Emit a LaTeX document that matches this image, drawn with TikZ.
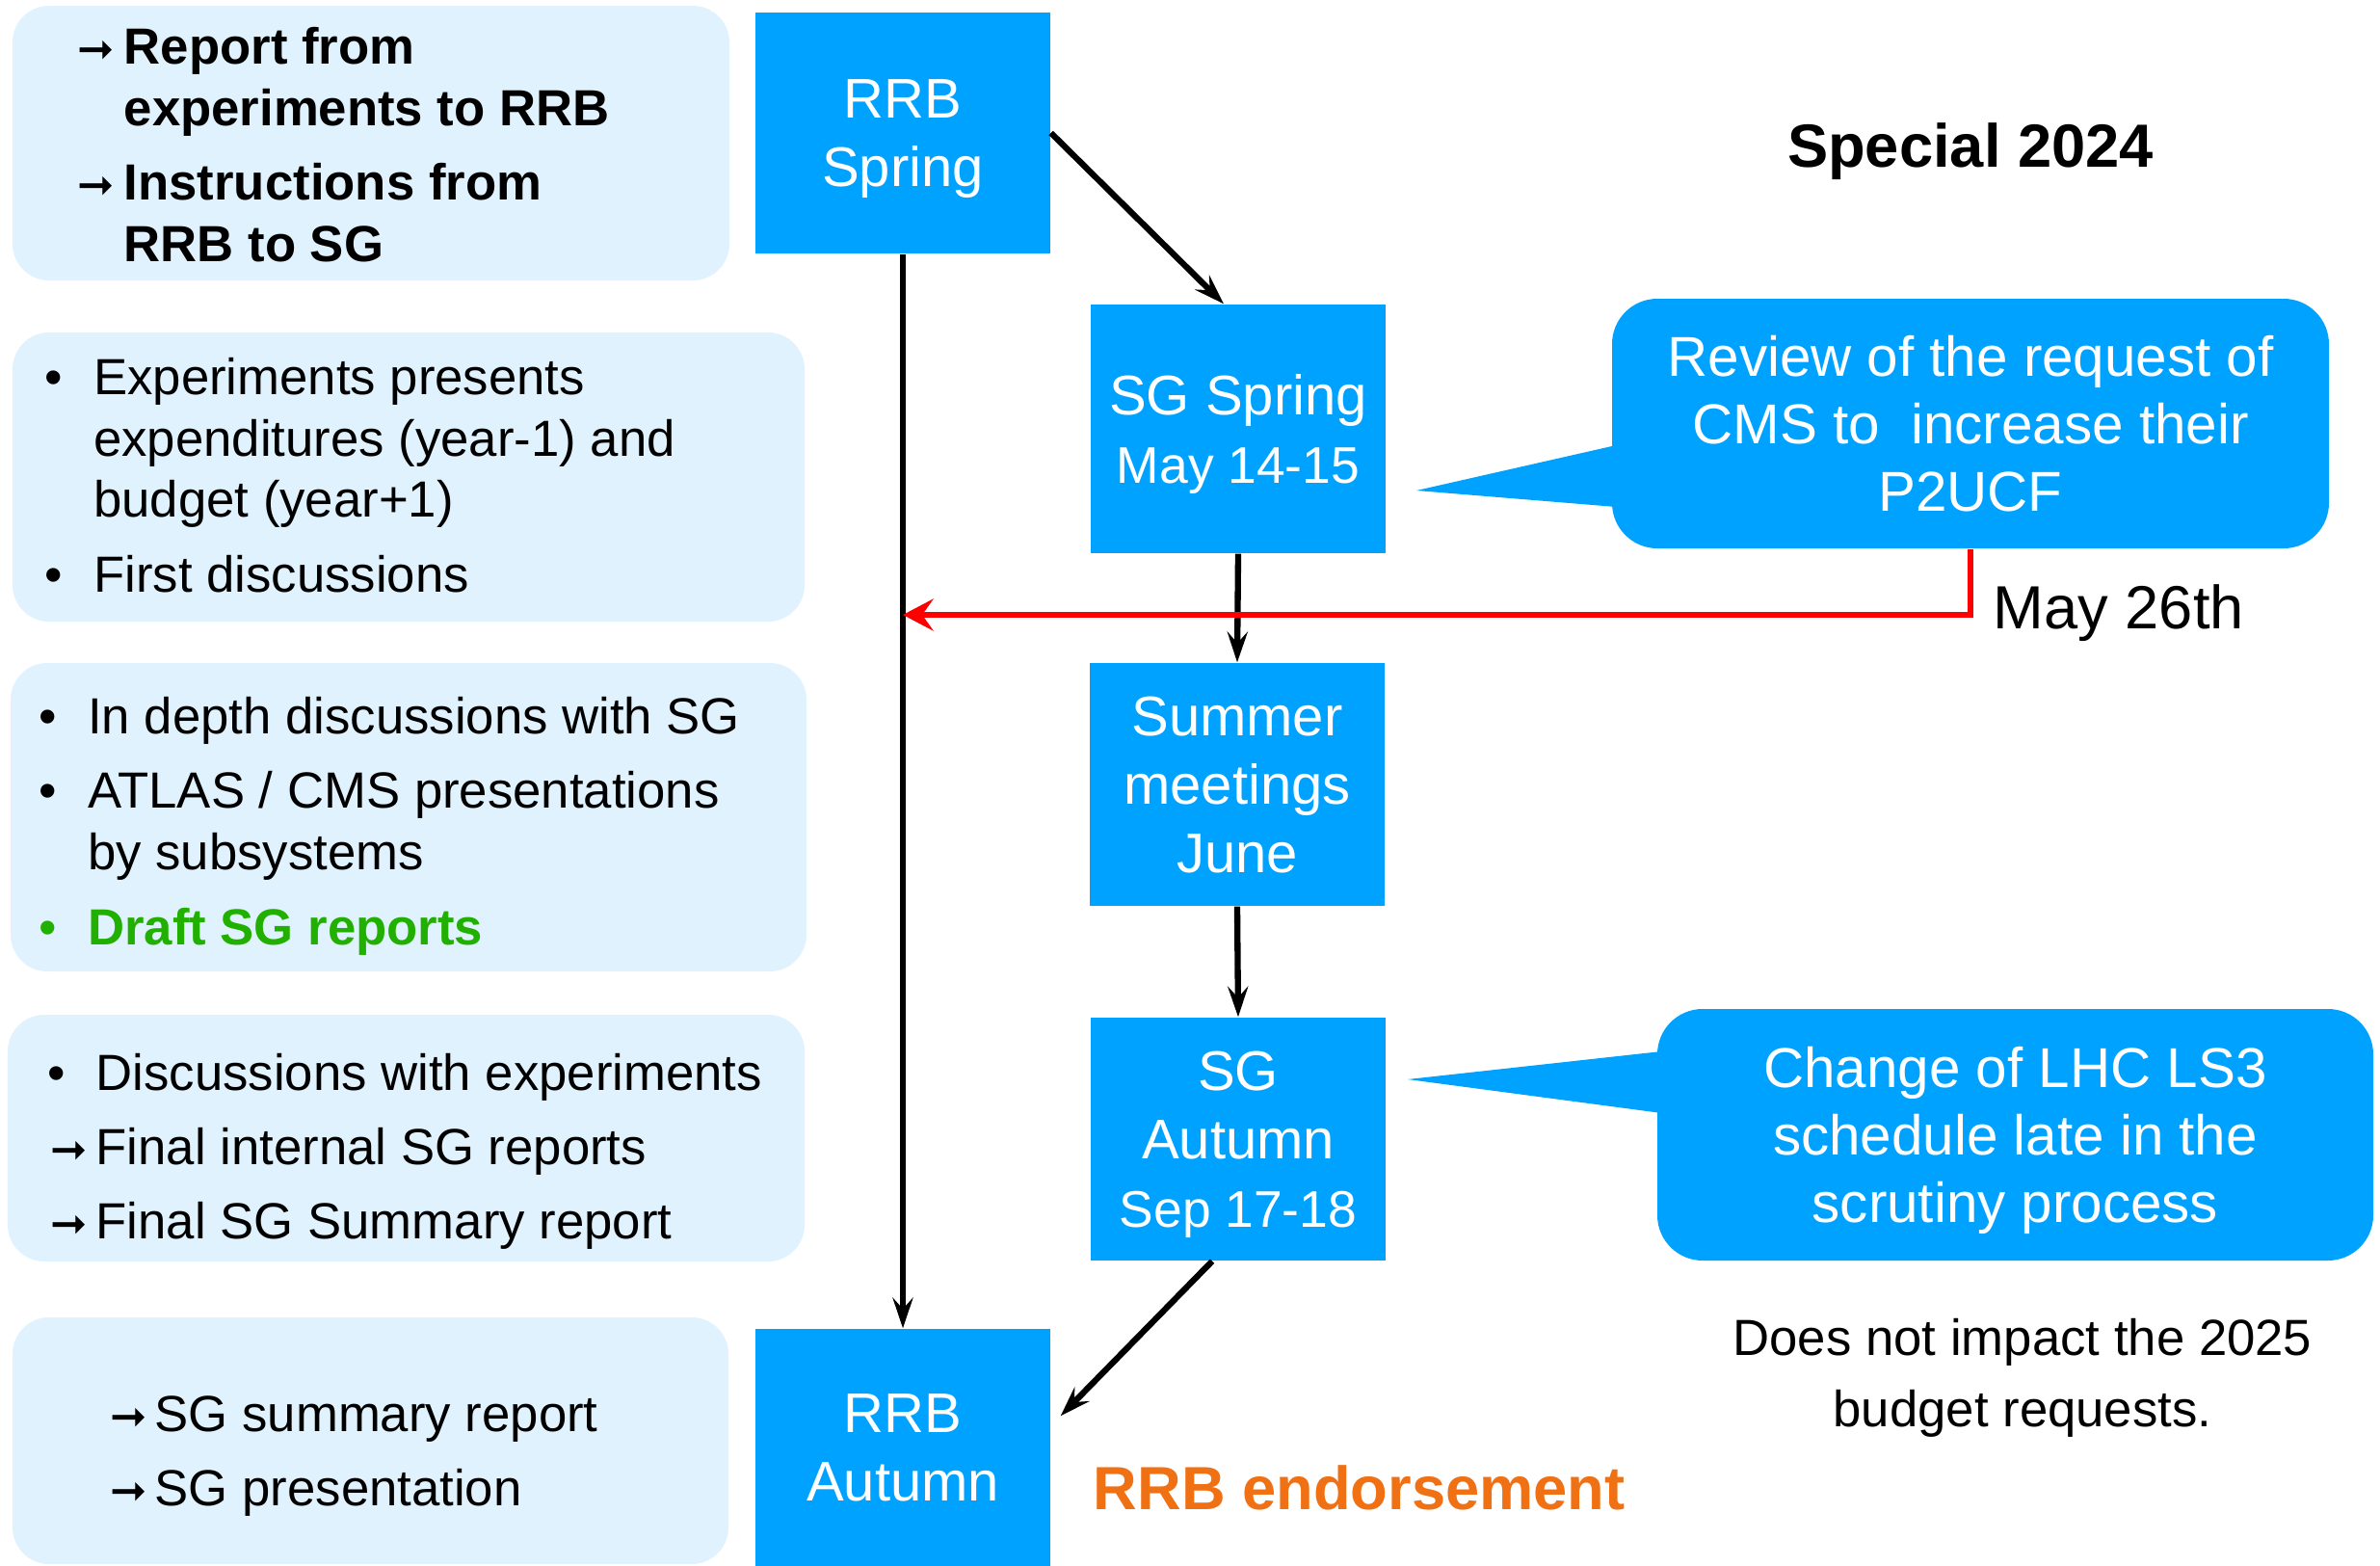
\documentclass[tikz,border=0pt]{standalone}
\usepackage{fontspec}
\setmainfont{Liberation Sans}
\newfontfamily\arrowfont{DejaVu Sans}
\usetikzlibrary{arrows.meta}

\definecolor{boxblue}{RGB}{0,162,255}
\definecolor{paleblue}{RGB}{224,242,254}
\definecolor{draftgreen}{RGB}{34,176,0}
\definecolor{endorse}{RGB}{240,112,20}

\newcommand{\arr}{{\arrowfont\bfseries\fontsize{13}{13}\selectfont ➞}}
\newcommand{\when}[1]{{\fontsize{15.2}{15.2}\selectfont #1}}

\tikzset{
  meeting/.style={rectangle, fill=boxblue, text=white, align=center, minimum width=3.06cm, text depth=-2.5pt, font=\fontsize{16.5}{20.2}\selectfont},
  notes/.style={rectangle, rounded corners=0.38cm, fill=paleblue},
  bubble/.style={rectangle, rounded corners=0.47cm, fill=boxblue, text=white, align=center, text depth=0pt, font=\fontsize{16.6}{20}\selectfont},
  txt/.style={anchor=base west, inner sep=0pt, font=\fontsize{15}{18}\selectfont},
  txtb/.style={txt, font=\fontsize{15}{18}\selectfont\bfseries},
  flow/.style={line width=1.8pt, -{Stealth[length=9pt, width=6pt, inset=3.3pt]}},
  feedback/.style={red, line width=1.7pt, -{Stealth[length=9pt, width=9.4pt, inset=3.3pt]}},
}

\begin{document}
\begin{tikzpicture}
\useasboundingbox (0,0) rectangle (24.70,-16.25);

% Notes on the left
\node[notes, minimum width=7.44cm, minimum height=2.85cm] (lbreport) at (3.85,-1.485) {};
\node[notes, minimum width=8.22cm, minimum height=3.00cm] (lbdiscuss) at (4.24,-4.95) {};
\node[notes, minimum width=8.26cm, minimum height=3.20cm] (lbdepth) at (4.24,-8.48) {};
\node[notes, minimum width=8.27cm, minimum height=2.56cm] (lbfinal) at (4.215,-11.81) {};
\node[notes, minimum width=7.43cm, minimum height=2.56cm] (lbsummary) at (3.845,-14.95) {};

\node[txtb] (rep1a) at (0.80,-0.67) {\arr};
\node[txtb] (rep1) at (1.28,-0.67) {Report from};
\node[txtb] (rep1b) at (1.28,-1.30) {experiments to RRB};
\node[txtb] (rep2a) at (0.80,-2.07) {\arr};
\node[txtb] (rep2) at (1.28,-2.07) {Instructions from};
\node[txtb] (rep2b) at (1.28,-2.71) {RRB to SG};

\node[txt] (dis1a) at (0.46,-4.09) {\textbullet};
\node[txt] (dis1) at (0.965,-4.09) {Experiments presents};
\node[txt] (dis1b) at (0.965,-4.73) {expenditures (year-1) and};
\node[txt] (dis1c) at (0.965,-5.36) {budget (year+1)};
\node[txt] (dis2a) at (0.46,-6.14) {\textbullet};
\node[txt] (dis2) at (0.965,-6.14) {First discussions};

\node[txt] (dep1a) at (0.40,-7.61) {\textbullet};
\node[txt] (dep1) at (0.905,-7.61) {In depth discussions with SG};
\node[txt] (dep2a) at (0.40,-8.38) {\textbullet};
\node[txt] (dep2) at (0.905,-8.38) {ATLAS / CMS presentations};
\node[txt] (dep2b) at (0.905,-9.02) {by subsystems};
\node[txt, text=draftgreen] (dep3a) at (0.40,-9.80) {\textbullet};
\node[txtb, text=draftgreen] (dep3) at (0.905,-9.80) {Draft SG reports};

\node[txt] (fin1a) at (0.49,-11.31) {\textbullet};
\node[txt] (fin1) at (0.99,-11.31) {Discussions with experiments};
\node[txt] (fin2a) at (0.52,-12.08) {\arr};
\node[txt] (fin2) at (0.99,-12.08) {Final internal SG reports};
\node[txt] (fin3a) at (0.52,-12.85) {\arr};
\node[txt] (fin3) at (0.99,-12.85) {Final SG Summary report};

\node[txt] (sum1a) at (1.14,-14.85) {\arr};
\node[txt] (sum1) at (1.60,-14.85) {SG summary report};
\node[txt] (sum2a) at (1.14,-15.62) {\arr};
\node[txt] (sum2) at (1.60,-15.62) {SG presentation};

% Meetings
\node[meeting, minimum height=2.50cm] (rrbspring) at (9.37,-1.38) {RRB\\Spring};
\node[meeting, minimum height=2.58cm] (sgspring) at (12.85,-4.45) {SG Spring\\\when{May 14-15}};
\node[meeting, minimum height=2.52cm] (summer) at (12.84,-8.14) {Summer\\meetings\\June};
\node[meeting, minimum height=2.52cm] (sgautumn) at (12.85,-11.82) {SG\\Autumn\\\when{Sep 17-18}};
\node[meeting, minimum height=2.46cm] (rrbautumn) at (9.37,-15.02) {RRB\\Autumn};

\draw[flow] (rrbspring.east) -- ([xshift=-0.15cm]sgspring.north);
\draw[flow] (rrbspring.south) -- (rrbautumn.north);
\draw[flow] (sgspring.south) -- (summer.north);
\draw[flow] (summer.south) -- (sgautumn.north);
\draw[flow] ([xshift=-0.27cm]sgautumn.south) -- ([shift={(0.1,-0.91)}]rrbautumn.north east);

% Callouts
\coordinate (reviewtip) at (14.70,-5.09);
\node[bubble, minimum width=7.44cm, minimum height=2.59cm] (review) at (20.45,-4.395) {Review of the request of\\CMS to\ \ increase their\\P2UCF};
\fill[boxblue] ([shift={(0.05,-0.225)}]review.west) -- (reviewtip) -- ([shift={(0.05,-0.865)}]review.west) -- cycle;

\coordinate (lhctip) at (14.61,-11.20);
\node[bubble, minimum width=7.43cm, minimum height=2.61cm] (lhc) at (20.915,-11.775) {Change of LHC LS3\\schedule late in the\\scrutiny process};
\fill[boxblue] ([shift={(0.05,0.865)}]lhc.west) -- (lhctip) -- ([shift={(0.05,0.225)}]lhc.west) -- cycle;

\coordinate (redlevel) at (0,-6.38);
\draw[feedback] (review.south) |- (rrbspring.south |- redlevel);
\node[txt, font=\fontsize{18}{21}\selectfont] (maydate) at (20.68,-6.52) {May 26th};

\node[anchor=base, inner sep=0pt, font=\fontsize{18}{21}\selectfont\bfseries] (special) at (20.45,-1.73) {Special 2024};
\node[txtb, font=\fontsize{18}{21}\selectfont\bfseries, text=endorse] (endorsement) at (11.34,-15.66) {RRB endorsement};
\node[anchor=base, inner sep=0pt, font=\fontsize{15}{18}\selectfont] (impact1) at (20.99,-14.06) {Does not impact the 2025};
\node[anchor=base, inner sep=0pt, font=\fontsize{15}{18}\selectfont] (impact2) at (20.99,-14.80) {budget requests.};
\end{tikzpicture}
\end{document}
